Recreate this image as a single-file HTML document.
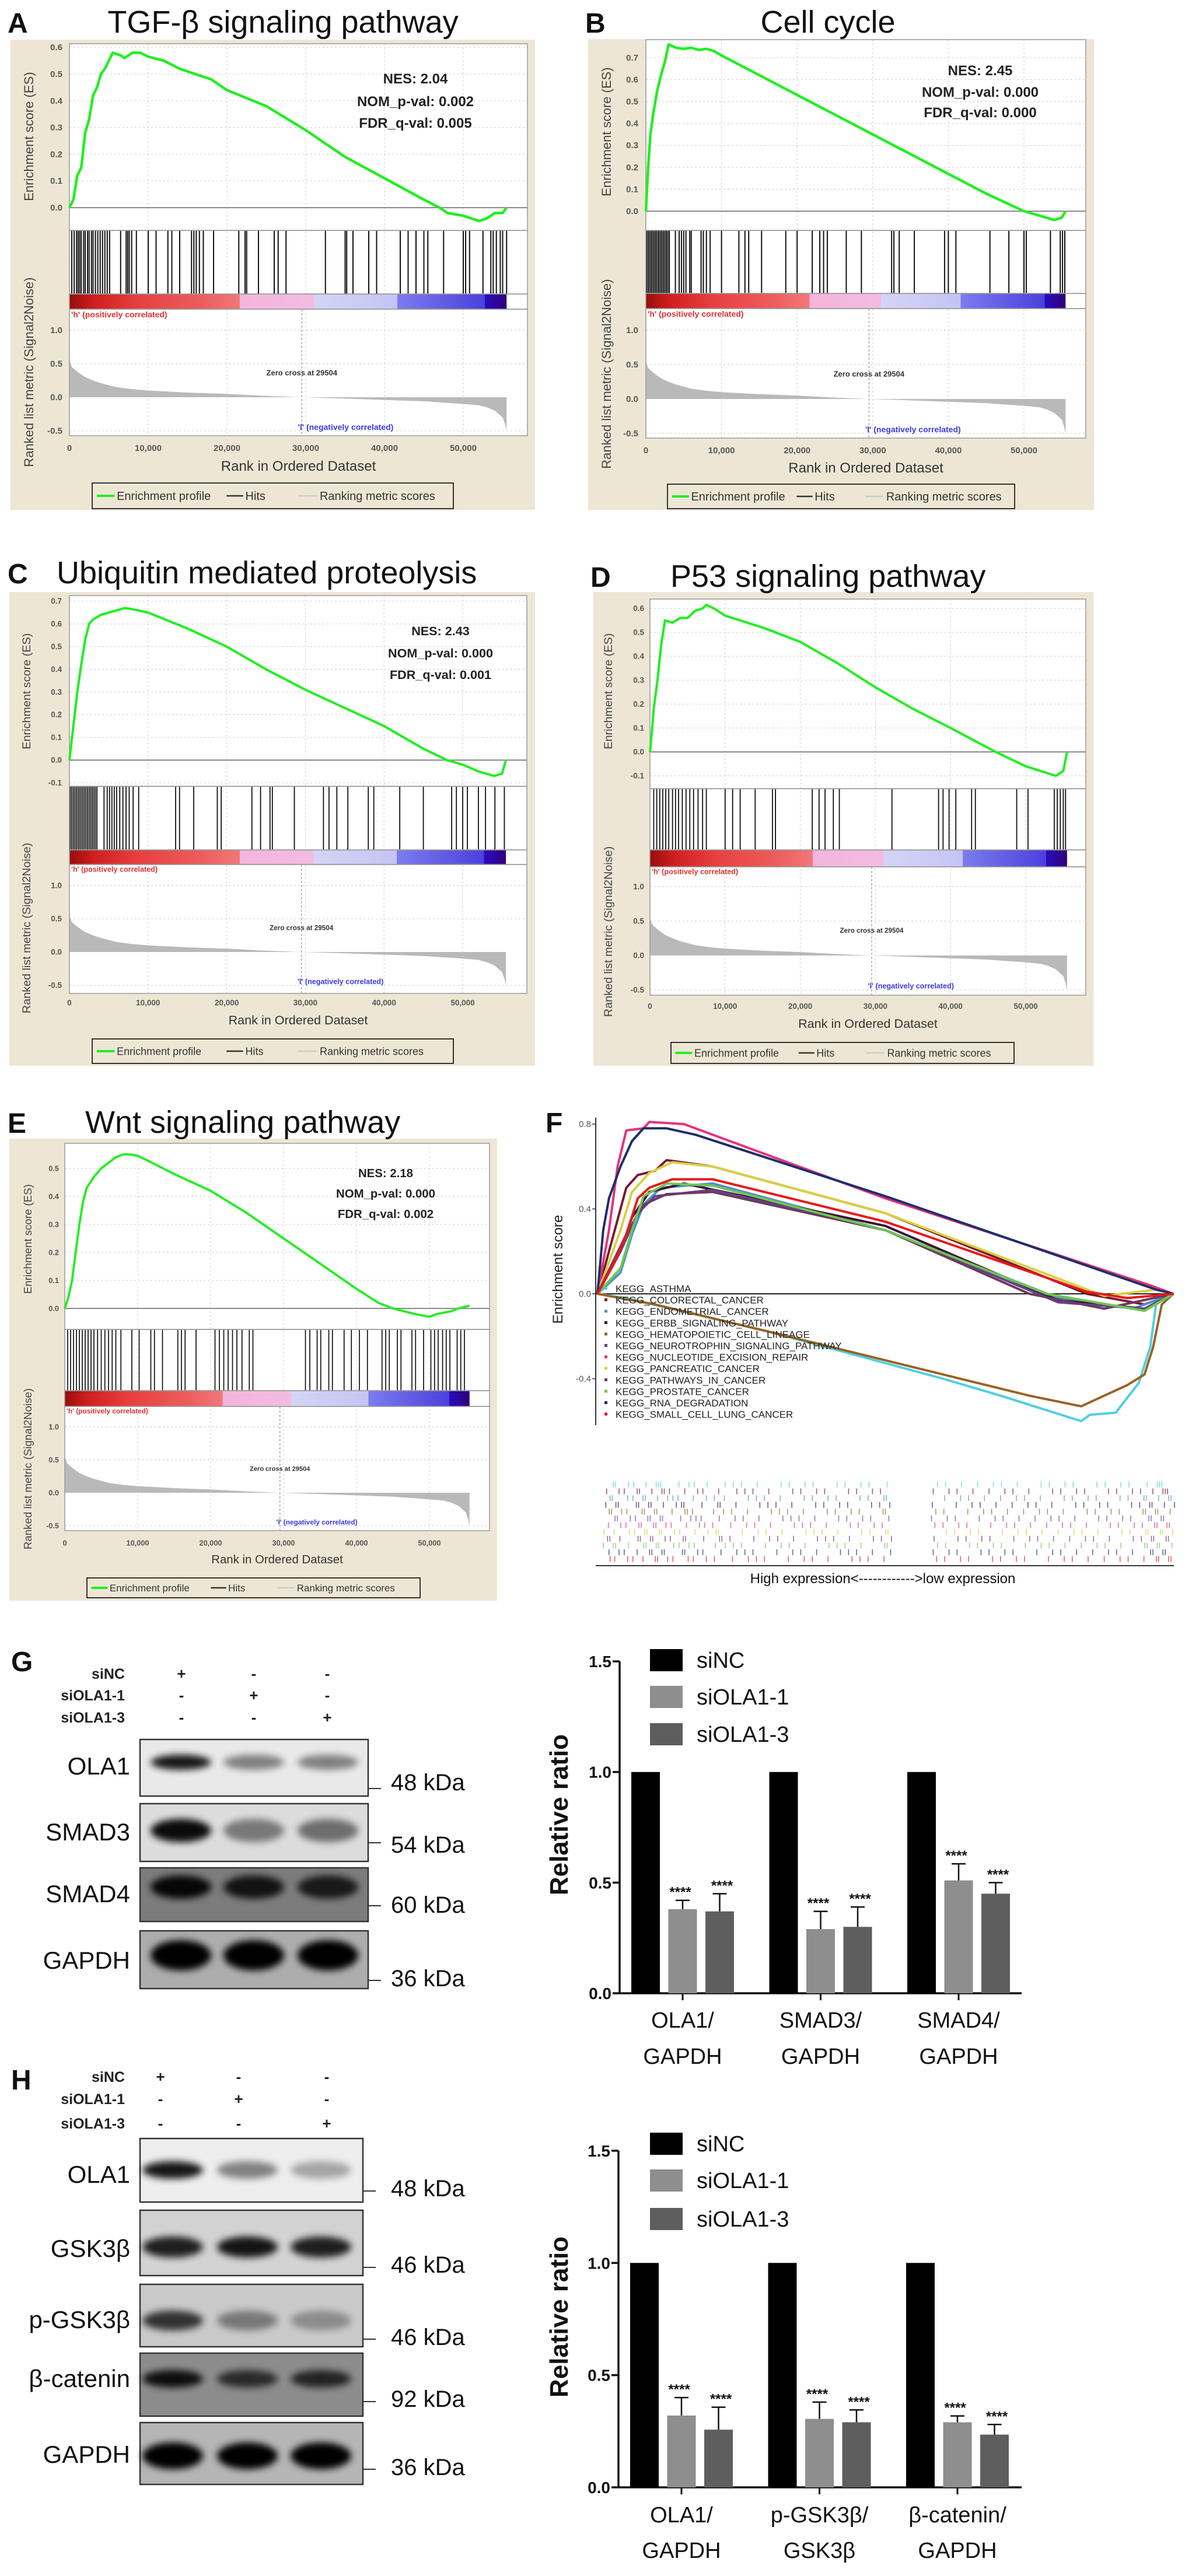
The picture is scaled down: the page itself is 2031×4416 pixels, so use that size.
<!DOCTYPE html>
<html><head><meta charset="utf-8"><title>OLA1 GSEA and western blot figure</title>
<style>
html,body{margin:0;padding:0;background:#fff;}
svg{display:block;font-family:"Liberation Sans",Arial,sans-serif;}
</style></head>
<body>
<svg id="fig" width="2031" height="4416" viewBox="0 0 2031 4416" xmlns="http://www.w3.org/2000/svg">
<defs>
<linearGradient id="cbar" x1="0" x2="1" y1="0" y2="0">
<stop offset="0" stop-color="#9a0c0c"/><stop offset="0.06" stop-color="#d02020"/><stop offset="0.16" stop-color="#e84040"/><stop offset="0.3" stop-color="#ec5c5c"/><stop offset="0.39" stop-color="#f07878"/>
<stop offset="0.39" stop-color="#f4b4dc"/><stop offset="0.56" stop-color="#f2bce2"/>
<stop offset="0.56" stop-color="#d4d4f6"/><stop offset="0.75" stop-color="#c4c4f4"/>
<stop offset="0.75" stop-color="#7c7cee"/><stop offset="0.95" stop-color="#4c40dc"/>
<stop offset="0.95" stop-color="#2a0cbe"/><stop offset="1" stop-color="#30007a"/>
</linearGradient>
<filter id="blur" x="-20%" y="-50%" width="140%" height="200%"><feGaussianBlur stdDeviation="6"/></filter>
<filter id="blur2" x="-20%" y="-50%" width="140%" height="200%"><feGaussianBlur stdDeviation="3"/></filter>
</defs>
</svg>
<script>
// ===== GSEA data (rank in thousands, enrichment score) =====
const esA=[[0,0],[0.5,0.03],[1,0.12],[1.5,0.15],[2,0.28],[2.5,0.33],[3,0.42],[3.5,0.45],[4,0.5],[4.5,0.52],[5,0.55],[5.5,0.58],[6.5,0.57],[7,0.56],[8,0.58],[9,0.58],[10,0.565],[12,0.55],[14,0.52],[16,0.5],[18,0.48],[20,0.44],[25,0.38],[30,0.29],[35,0.19],[40,0.11],[45,0.03],[47,0.0],[48,-0.02],[50,-0.03],[52,-0.05],[53,-0.04],[54,-0.02],[55,-0.02],[55.5,0.0]];
const esB=[[0,0],[0.3,0.2],[0.6,0.35],[1,0.45],[1.5,0.55],[2,0.62],[2.5,0.68],[3,0.76],[4,0.745],[5,0.74],[6,0.745],[7,0.735],[8,0.74],[9,0.73],[10,0.71],[15,0.62],[20,0.53],[25,0.44],[30,0.35],[35,0.26],[40,0.17],[45,0.08],[50,0.0],[52,-0.02],[54,-0.04],[55,-0.03],[55.5,0.0]];
const esC=[[0,0],[0.5,0.15],[1,0.3],[1.5,0.42],[2,0.53],[2.5,0.6],[3,0.62],[4,0.64],[5,0.65],[6,0.66],[7,0.67],[8,0.665],[10,0.65],[15,0.58],[20,0.5],[25,0.4],[30,0.31],[35,0.23],[40,0.15],[45,0.05],[48,0.0],[50,-0.02],[52,-0.05],[54,-0.07],[55,-0.06],[55.5,0.0]];
const esD=[[0,0],[0.3,0.1],[0.5,0.18],[1,0.3],[1.5,0.45],[2,0.55],[3,0.54],[4,0.56],[5,0.56],[6,0.59],[7,0.6],[7.5,0.615],[8.5,0.6],[10,0.57],[15,0.52],[20,0.46],[25,0.37],[30,0.27],[35,0.18],[40,0.1],[46,0.0],[50,-0.06],[52,-0.08],[54,-0.1],[55,-0.08],[55.5,0.0]];
const esE=[[0,0],[0.5,0.04],[1,0.1],[1.5,0.2],[2,0.3],[2.5,0.38],[3,0.43],[4,0.47],[5,0.5],[6,0.52],[7,0.54],[8,0.55],[9,0.55],[10,0.545],[12,0.52],[15,0.48],[20,0.42],[25,0.34],[30,0.25],[35,0.16],[40,0.07],[43,0.02],[45,0.0],[48,-0.02],[50,-0.03],[51,-0.02],[53,-0.01],[54,0.0],[55.5,0.01]];
const hitsA=[0.3,0.6,0.9,1.1,1.3,1.5,1.8,2.0,2.3,2.5,2.8,3.0,3.3,3.6,3.9,4.2,4.5,4.8,5.1,6.5,7.2,7.4,7.6,7.9,8.5,10,11,12.5,13,14,15.5,15.8,16.1,16.5,17,18.3,21.5,22.3,22.5,24,26,26.5,27.5,32.5,35,35.2,36,38,39,42,43,44,45,45.5,47.5,50,50.3,50.8,52.5,53.5,53.8,54.2,54.7,55,55.5];
const hitsB=[0.1,0.3,0.5,0.7,0.9,1.1,1.3,1.5,1.7,1.9,2.1,2.3,2.5,2.7,2.9,3.1,3.9,4.4,4.7,5.0,5.3,5.8,6.0,7.3,7.6,8.0,8.5,10.0,12.3,13.1,13.6,15.3,18.5,20.0,22.0,23.0,23.5,24.0,26.5,28.5,32.5,32.8,33.5,35.5,39.5,40.0,41.0,45.5,48,50,50.3,53.5,54.8,55.1,55.4];
const hitsC=[0.1,0.3,0.5,0.7,0.9,1.1,1.3,1.5,1.7,1.9,2.1,2.3,2.5,2.7,2.9,3.1,3.3,3.5,4.4,4.8,5.1,5.4,5.7,6.0,6.4,6.8,7.2,7.6,8.1,8.8,13.5,14,15.8,18.8,19.3,23.2,24.3,25.5,25.8,28.6,32.3,33,34,35.4,38,38.7,42,45,48.6,49.2,50,50.6,52,52.9,54.1,55.3];
const hitsD=[0.5,0.9,1.3,1.7,2.1,2.5,3.0,3.4,3.8,4.3,4.8,5.3,5.8,6.4,7.0,7.5,10,11,12,14,16.3,16.7,21.6,22.5,23.3,24.4,25.2,32.2,38.4,39,39.8,40.7,42.8,43.3,48.8,50.3,53.8,54.2,54.6,55,55.3];
const hitsE=[0.4,0.8,1.2,1.6,2.0,2.4,2.8,3.2,3.6,4.0,4.5,5.0,5.5,6.0,6.5,7.0,7.7,9.2,10.2,11.8,12.3,13.4,15.5,16,16.5,18,20.6,21.2,21.8,22.4,23,23.6,24.3,25.3,25.8,33,33.6,34.6,35.1,36.2,36.7,38.3,39.3,40.4,41.5,43.5,44,44.5,45.6,46.1,47.6,48.1,49.2,50.2,50.7,51.2,51.8,52.3,52.8,53.8,54.3,54.8];
const metricRank=[0,0.3,1,2,3,4,6,8,10,15,20,25,29.5,35,40,45,50,52,53,54,54.5,55,55.3,55.5];
const metricVal=[0.55,0.45,0.38,0.3,0.25,0.21,0.15,0.12,0.1,0.07,0.05,0.02,0.0,-0.02,-0.04,-0.06,-0.1,-0.12,-0.15,-0.2,-0.25,-0.3,-0.4,-0.5];
const xTickVals=[0,10,20,30,40,50];
const xTickLabels=["0","10,000","20,000","30,000","40,000","50,000"];

// ===== F panel data (fraction of ranked list, enrichment score) =====
const fNames=["KEGG_ASTHMA","KEGG_COLORECTAL_CANCER","KEGG_ENDOMETRIAL_CANCER","KEGG_ERBB_SIGNALING_PATHWAY","KEGG_HEMATOPOIETIC_CELL_LINEAGE","KEGG_NEUROTROPHIN_SIGNALING_PATHWAY","KEGG_NUCLEOTIDE_EXCISION_REPAIR","KEGG_PANCREATIC_CANCER","KEGG_PATHWAYS_IN_CANCER","KEGG_PROSTATE_CANCER","KEGG_RNA_DEGRADATION","KEGG_SMALL_CELL_LUNG_CANCER"];
const fColors=["#4fcfe0","#7a1a30","#4f8fcc","#3a1238","#9a6224","#6a3f8a","#e8307a","#d8d040","#6a3c60","#6cc850","#1c2f6c","#e81818"];
const fAsthma=[[0,0],[0.05,-0.02],[0.3,-0.18],[0.6,-0.4],[0.7,-0.48],[0.84,-0.6],[0.855,-0.57],[0.9,-0.56],[0.94,-0.42],[0.96,-0.25],[0.97,-0.05],[1,0]];
const fColorectal=[[0,0],[0.03,0.3],[0.05,0.5],[0.07,0.56],[0.1,0.58],[0.12,0.63],[0.2,0.6],[0.5,0.38],[0.85,0.0],[0.95,-0.05],[1,0]];
const fEndometrial=[[0,0],[0.04,0.1],[0.06,0.28],[0.08,0.42],[0.11,0.5],[0.2,0.52],[0.5,0.3],[0.8,-0.02],[0.93,-0.07],[1,0]];
const fErbb=[[0,0],[0.04,0.2],[0.06,0.36],[0.09,0.48],[0.15,0.52],[0.5,0.32],[0.8,-0.03],[0.95,-0.07],[1,0]];
const fHemato=[[0,0],[0.1,-0.05],[0.3,-0.18],[0.6,-0.38],[0.75,-0.48],[0.84,-0.53],[0.88,-0.48],[0.92,-0.43],[0.95,-0.38],[0.965,-0.25],[0.98,-0.05],[1,0]];
const fNeuro=[[0,0],[0.04,0.2],[0.07,0.38],[0.1,0.46],[0.2,0.49],[0.5,0.3],[0.8,-0.04],[0.95,-0.07],[1,0]];
const fNer=[[0,0],[0.02,0.3],[0.035,0.6],[0.05,0.77],[0.08,0.78],[0.09,0.81],[0.15,0.8],[0.5,0.45],[0.96,0.04],[1,0]];
const fPancreatic=[[0,0],[0.04,0.3],[0.06,0.48],[0.09,0.57],[0.13,0.62],[0.2,0.6],[0.5,0.38],[0.88,-0.01],[0.97,0.02],[1,0]];
const fPathways=[[0,0],[0.05,0.28],[0.08,0.42],[0.12,0.47],[0.2,0.48],[0.5,0.3],[0.75,0.0],[0.88,-0.07],[1,0]];
const fProstate=[[0,0],[0.04,0.12],[0.06,0.3],[0.08,0.46],[0.12,0.52],[0.2,0.51],[0.5,0.3],[0.78,0.0],[0.95,-0.08],[1,0]];
const fRna=[[0,0],[0.01,0.3],[0.02,0.45],[0.04,0.6],[0.06,0.72],[0.08,0.78],[0.12,0.78],[0.17,0.75],[0.5,0.46],[0.97,0.02],[1,0]];
const fSclc=[[0,0],[0.03,0.15],[0.05,0.28],[0.07,0.45],[0.09,0.5],[0.13,0.54],[0.2,0.54],[0.5,0.34],[0.85,0.01],[0.92,-0.02],[1,0]];
const fSeries=[fAsthma,fColorectal,fEndometrial,fErbb,fHemato,fNeuro,fNer,fPancreatic,fPathways,fProstate,fRna,fSclc];
const fTicks=[0.8,0.4,0.0,-0.4];
const fTickLabels=["0.8","0.4","0.0","-0.4"];
const rugPos=[0.01,0.02,0.03,0.045,0.06,0.07,0.08,0.09,0.1,0.11,0.125,0.14,0.15,0.165,0.18,0.2,0.21,0.23,0.25,0.27,0.29,0.31,0.33,0.35,0.37,0.39,0.41,0.43,0.45,0.47,0.49,0.5,0.58,0.6,0.62,0.64,0.66,0.68,0.7,0.72,0.74,0.76,0.78,0.8,0.82,0.84,0.86,0.88,0.9,0.92,0.94,0.95,0.96,0.97,0.98,0.99];

// ===== Bar chart data =====
const gCats=[["OLA1/","GAPDH"],["SMAD3/","GAPDH"],["SMAD4/","GAPDH"]];
const gSiNC=[1,1,1];
const gSi1=[0.38,0.29,0.51];
const gSi3=[0.37,0.30,0.45];
const gErr1=[0.04,0.08,0.075];
const gErr3=[0.08,0.09,0.05];
const hCats=[["OLA1/","GAPDH"],["p-GSK3β/","GSK3β"],["β-catenin/","GAPDH"]];
const hSiNC=[1,1,1];
const hSi1=[0.32,0.305,0.29];
const hSi3=[0.257,0.29,0.235];
const hErr1=[0.08,0.075,0.028];
const hErr3=[0.1,0.055,0.045];
const yTicks=[0,0.5,1.0,1.5];
const yTickLabels=["0.0","0.5","1.0","1.5"];
const seriesNames=["siNC","siOLA1-1","siOLA1-3"];
const seriesColors=["#000000","#8e8e8e","#5e5e5e"];

const NS='http://www.w3.org/2000/svg';
const svg=document.getElementById('fig');
function el(tag,a,p){const e=document.createElementNS(NS,tag);for(const k in a)e.setAttribute(k,a[k]);(p||svg).appendChild(e);return e;}
function tx(s,a,p){const e=el('text',a,p);e.textContent=s;return e;}

function gsea(c,es,hits,name){
  const g=el('g',{});
  
  
  const k=c.k;
  const X=r=>c.x0+r*(c.x50-c.x0)/50;
  const YE=v=>c.esZero-v*c.esUnit;
  const YM=v=>c.metZero-v*c.metUnit;
  const bg=el('rect',{x:c.box[0],y:c.box[1],width:c.box[2],height:c.box[3],fill:'#ede6d4'},g);
  
  
  el('rect',{x:c.x0,y:c.esTop,width:c.x1-c.x0,height:c.metBot-c.esTop,fill:'#fff'},g);
  // grids
  for(const t of xTickVals){el('line',{x1:X(t),x2:X(t),y1:c.esTop,y2:c.metBot,stroke:'#d4d4d4','stroke-dasharray':'3,4','stroke-width':1.2},g);}
  for(const t of c.esTicks){el('line',{x1:c.x0,x2:c.x1,y1:YE(t),y2:YE(t),stroke:'#d4d4d4','stroke-dasharray':'3,4','stroke-width':1.2},g);}
  for(const t of [1,0.5,-0.5]){el('line',{x1:c.x0,x2:c.x1,y1:YM(t),y2:YM(t),stroke:'#d4d4d4','stroke-dasharray':'3,4','stroke-width':1.2},g);}
  // hits bg white already; colorbar
  const cb=el('rect',{x:c.x0,y:c.hitBot,width:X(55.5)-c.x0,height:c.cbBot-c.hitBot,fill:'url(#cbar)'},g);
  
  
  // hits
  for(const h of hits){
    const l=el('line',{x1:X(h),x2:X(h),y1:c.esBot,y2:c.hitBot,stroke:'#111','stroke-width':2*k},g);
    
    
  }
  // metric polygon
  let pts=`${X(0)},${c.metZero} `;
  for(let i=0;i<metricRank.length;i++)pts+=`${X(metricRank[i])},${YM(metricVal[i])} `;
  pts+=`${X(55.5)},${c.metZero}`;
  const mp=el('polygon',{points:pts,fill:'#b9b9b9'},g);
  
  
  el('line',{x1:X(29.504),x2:X(29.504),y1:c.cbBot,y2:c.metBot,stroke:'#999','stroke-dasharray':'4,3','stroke-width':1.2},g);
  // frames
  for(const [a,b] of [[c.esTop,c.esBot],[c.esBot,c.hitBot],[c.hitBot,c.cbBot],[c.cbBot,c.metBot]]){
    el('rect',{x:c.x0,y:a,width:c.x1-c.x0,height:b-a,fill:'none',stroke:'#9a9a9a','stroke-width':1.5},g);
  }
  el('line',{x1:c.x0,x2:c.x1,y1:YE(0),y2:YE(0),stroke:'#8a8a8a','stroke-width':2},g);
  // ES curve
  const pl=el('polyline',{points:es.map(p=>X(p[0])+','+YE(p[1])).join(' '),fill:'none',stroke:'#22ee22','stroke-width':4.5*k,'stroke-linejoin':'round'},g);
  
  
  // y tick labels
  for(const t of c.esTicks){tx(t.toFixed(1),{x:c.tickRX,y:YE(t)+5*k,'text-anchor':'end','font-size':15*k,'font-weight':'bold',fill:'#555'},g);}
  for(const t of [1,0.5,0,-0.5]){tx(t.toFixed(1),{x:c.tickRX,y:YM(t)+5*k,'text-anchor':'end','font-size':15*k,'font-weight':'bold',fill:'#555'},g);}
  for(let i=0;i<xTickVals.length;i++){tx(xTickLabels[i],{x:X(xTickVals[i]),y:c.tickY+5*k,'text-anchor':'middle','font-size':15*k,'font-weight':'bold',fill:'#555'},g);}
  const xt=tx('Rank in Ordered Dataset',{x:(c.x0+c.x1)/2,y:c.xTitleY+8*k,'text-anchor':'middle','font-size':24*k,fill:'#333'},g);
  
  
  const yl=tx('Enrichment score (ES)',{x:0,y:0,transform:`translate(${c.ylabX},${c.esLabY}) rotate(-90)`,'text-anchor':'middle','font-size':22*k,fill:'#444'},g);
  
  
  const yl2=tx('Ranked list metric (Signal2Noise)',{x:0,y:0,transform:`translate(${c.ylabX},${c.rkLabY}) rotate(-90)`,'text-anchor':'middle','font-size':22*k,fill:'#444'},g);
  
  
  tx("'h' (positively correlated)",{x:c.x0+3,y:c.cbBot+14*k,'font-size':14*k,'font-weight':'bold',fill:'#e03030'},g);
  tx("'l' (negatively correlated)",{x:X(29),y:YM(-0.45)+4*k,'font-size':14*k,'font-weight':'bold',fill:'#3a3ae0'},g);
  tx('Zero cross at 29504',{x:X(29.5),y:YM(0.36)+4*k,'text-anchor':'middle','font-size':13*k,'font-weight':'bold',fill:'#333'},g);
  if(c.nes){
    const ys=c.nesY;
    tx('NES:  '+c.nes[0],{x:c.nesX,y:ys[0]+8*k,'text-anchor':'middle','font-size':24*k,'font-weight':'bold',fill:'#222'},g);
    tx('NOM_p-val:  '+c.nes[1],{x:c.nesX,y:ys[1]+8*k,'text-anchor':'middle','font-size':24*k,'font-weight':'bold',fill:'#222'},g);
    tx('FDR_q-val:  '+c.nes[2],{x:c.nesX,y:ys[2]+8*k,'text-anchor':'middle','font-size':24*k,'font-weight':'bold',fill:'#222'},g);
  }
  // legend
  const [lx0,ly0,lx1,ly1]=c.leg; const lw=lx1-lx0, lyc=(ly0+ly1)/2;
  const lg=el('g',{},g);
  
  
  el('rect',{x:lx0,y:ly0,width:lw,height:ly1-ly0,fill:'#ede6d4',stroke:'#333','stroke-width':2},lg);
  el('line',{x1:lx0+lw*0.013,x2:lx0+lw*0.062,y1:lyc,y2:lyc,stroke:'#22ee22','stroke-width':4},lg);
  tx('Enrichment profile',{x:lx0+lw*0.068,y:lyc+7*k,'font-size':20*k,fill:'#333'},lg);
  el('line',{x1:lx0+lw*0.372,x2:lx0+lw*0.418,y1:lyc,y2:lyc,stroke:'#333','stroke-width':2.5},lg);
  tx('Hits',{x:lx0+lw*0.424,y:lyc+7*k,'font-size':20*k,fill:'#333'},lg);
  el('line',{x1:lx0+lw*0.57,x2:lx0+lw*0.622,y1:lyc,y2:lyc,stroke:'#ccc','stroke-width':2.5},lg);
  tx('Ranking metric scores',{x:lx0+lw*0.63,y:lyc+7*k,'font-size':20*k,fill:'#333'},lg);
}
function title(letter,lx,ly,t,tx0,anchor){
  const a=tx(letter,{x:lx,y:ly,'font-size':48,'font-weight':'bold',fill:'#111'});
  
  
  if(t){const b=tx(t,{x:tx0,y:ly,'font-size':54,fill:'#111','text-anchor':anchor});
  
  }
}

gsea({box:[18,68,899,806],x0:119,x1:904,x50:794,esTop:75,esBot:395,esZero:356,esUnit:458,esTicks:[0,0.1,0.2,0.3,0.4,0.5,0.6],hitBot:504,cbBot:530,metBot:747,metZero:681,metUnit:115,tickY:768,xTitleY:799,leg:[158,828,777,872],ylabX:57,esLabY:234,rkLabY:638,tickRX:107,nesX:712,nesY:[135,174,211],nes:['2.04','0.002','0.005'],k:1},esA,hitsA,'tgf-beta');
title('A',13,56,'TGF-β signaling pathway',485,'middle');

gsea({box:[1008,67,867,807],x0:1107,x1:1861,x50:1755,esTop:68,esBot:395,esZero:362,esUnit:376,esTicks:[0,0.1,0.2,0.3,0.4,0.5,0.6,0.7],hitBot:503,cbBot:529,metBot:751,metZero:684,metUnit:118,tickY:772,xTitleY:802,leg:[1144,830,1739,872],ylabX:1047,esLabY:226,rkLabY:641,tickRX:1094,nesX:1680,nesY:[121,158,193],nes:['2.45','0.000','0.000'],k:1},esB,hitsB,'cell-cycle');
title('B',1003,56,'Cell cycle',1419,'middle');

gsea({box:[16,1015,901,812],x0:119,x1:903,x50:793,esTop:1021,esBot:1348,esZero:1303,esUnit:389,esTicks:[-0.1,0,0.1,0.2,0.3,0.4,0.5,0.6,0.7],hitBot:1457,cbBot:1482,metBot:1703,metZero:1632,metUnit:114,tickY:1719,xTitleY:1749,leg:[158,1781,777,1823],ylabX:52,esLabY:1185,rkLabY:1591,tickRX:106,nesX:755,nesY:[1082,1120,1157],nes:['2.43','0.000','0.001'],k:0.9},esC,hitsC,'ubiquitin');
title('C',13,1000,'Ubiquitin mediated proteolysis',97,'start');

gsea({box:[1017,1015,857,812],x0:1114,x1:1861,x50:1758,esTop:1027,esBot:1352,esZero:1289,esUnit:410,esTicks:[-0.1,0,0.1,0.2,0.3,0.4,0.5,0.6],hitBot:1457,cbBot:1486,metBot:1706,metZero:1638,metUnit:118,tickY:1725,xTitleY:1755,leg:[1150,1787,1738,1823],ylabX:1049,esLabY:1185,rkLabY:1597,tickRX:1104,k:0.9},esD,hitsD,'p53');
title('D',1012,1006,'P53 signaling pathway',1149,'start');

gsea({box:[16,1952,836,792],x0:111,x1:839,x50:736,esTop:1960,esBot:2279,esZero:2243,esUnit:480,esTicks:[0,0.1,0.2,0.3,0.4,0.5],hitBot:2384,cbBot:2411,metBot:2624,metZero:2559,metUnit:113,tickY:2645,xTitleY:2673,leg:[149,2705,720,2739],ylabX:54,esLabY:2124,rkLabY:2518,tickRX:101,nesX:661,nesY:[2011,2046,2081],nes:['2.18','0.000','0.002'],k:0.85},esE,hitsE,'wnt');
title('E',13,1942,'Wnt signaling pathway',146,'start');

// ===== Panel F =====
(function(){
  const g=el('g',{});
  
  
  const XF=f=>1024+f*(2011-1024);
  const YF=v=>2218-v*363.75;
  const ax=el('line',{x1:1021,x2:1021,y1:1916,y2:2443,stroke:'#333','stroke-width':2},g);
  
  
  for(let i=0;i<fTicks.length;i++){
    el('line',{x1:1015,x2:1021,y1:YF(fTicks[i]),y2:YF(fTicks[i]),stroke:'#333','stroke-width':1.5},g);
    tx(fTickLabels[i],{x:1013,y:YF(fTicks[i])+5,'text-anchor':'end','font-size':15,fill:'#555'},g);
  }
  el('line',{x1:1021,x2:2012,y1:YF(0),y2:YF(0),stroke:'#222','stroke-width':2},g);
  for(let s=0;s<fSeries.length;s++){
    const p=el('polyline',{points:fSeries[s].map(q=>XF(q[0])+','+YF(q[1])).join(' '),fill:'none',stroke:fColors[s],'stroke-width':4,'stroke-linejoin':'round'},g);
    
    
  }
  const yl=tx('Enrichment  score',{x:0,y:0,transform:'translate(964,2176) rotate(-90)','text-anchor':'middle','font-size':24,fill:'#222'},g);
  
  
  for(let i=0;i<fNames.length;i++){
    const y=2209+i*19.6;
    const d=el('rect',{x:1036,y:y-3,width:5,height:5,fill:fColors[i]},g);
    
    
    const t=tx(fNames[i],{x:1055,y:y+6,'font-size':17,fill:'#222'},g);
    
    
  }
  // rug of hit positions (12 rows)
  for(let r=0;r<12;r++){
    const y=2540+r*11.6;
    for(let i=0;i<rugPos.length;i++){
      if((i*7+r*3)%5===0)continue;
      const f=rugPos[i]+((r*13+i*5)%9)*0.0015;
      el('line',{x1:XF(f),x2:XF(f),y1:y,y2:y+10,stroke:fColors[r],'stroke-width':1.6,opacity:0.7},g);
    }
  }
  el('line',{x1:1021,x2:2012,y1:2684,y2:2684,stroke:'#333','stroke-width':2},g);
  tx('High expression<------------>low expression',{x:1513,y:2714,'text-anchor':'middle','font-size':24,fill:'#111'},g);
  title('F',935,1941,null);
})();

// ===== Western blots =====
function blots(prefix,rows,lanes,labelRows,lx){
  const g=el('g',{});
  
  
  // treatment labels
  for(const lr of labelRows){
    tx(lr.name,{x:214,y:lr.y+9,'text-anchor':'end','font-size':25,'font-weight':'bold',fill:'#222'},g);
    for(let i=0;i<3;i++) tx(lr.signs[i],{x:lr.xs[i],y:lr.y+9,'text-anchor':'middle','font-size':26,'font-weight':'bold',fill:'#222'},g);
  }
  for(const r of rows){
    const bx=el('rect',{x:240,y:r.y0,width:r.x1-240,height:r.y1-r.y0,fill:r.bg,stroke:'#333','stroke-width':2.5},g);
    
    
    for(let i=0;i<3;i++){
      const e=el('ellipse',{cx:lanes[i],cy:r.by,rx:52,ry:r.bh/2,fill:'#000',opacity:r.int[i],filter:'url(#blur)'},g);
      
      
    }
    tx(r.name,{x:223,y:r.ly+14,'text-anchor':'end','font-size':42,fill:'#111'},g);
    el('line',{x1:r.x1,x2:r.x1+22,y1:r.ty,y2:r.ty,stroke:'#333','stroke-width':2},g);
    tx(r.kda,{x:670,y:r.ky+14,'font-size':40,fill:'#111'},g);
  }
}
blots('g',[
 {name:'OLA1',y0:2982,y1:3079,x1:631,bg:'#e9e9e9',by:3021,bh:26,int:[0.9,0.45,0.45],ly:3028,ty:3066,ky:3055,kda:'48 kDa'},
 {name:'SMAD3',y0:3092,y1:3191,x1:631,bg:'#dcdcdc',by:3138,bh:40,int:[0.95,0.45,0.5],ly:3141,ty:3159,ky:3162,kda:'54 kDa'},
 {name:'SMAD4',y0:3202,y1:3294,x1:631,bg:'#7c7c7c',by:3235,bh:40,int:[0.95,0.85,0.8],ly:3247,ty:3267,ky:3265,kda:'60 kDa'},
 {name:'GAPDH',y0:3310,y1:3409,x1:631,bg:'#adadad',by:3352,bh:52,int:[1,1,1],ly:3361,ty:3395,ky:3391,kda:'36 kDa'}
],[310,435,562],[
 {name:'siNC',y:2869,signs:['+','-','-'],xs:[311,435,561]},
 {name:'siOLA1-1',y:2906,signs:['-','+','-'],xs:[311,435,561]},
 {name:'siOLA1-3',y:2944,signs:['-','-','+'],xs:[311,435,561]}]);
title('G',19,2865,null);

blots('h',[
 {name:'OLA1',y0:3666,y1:3775,x1:622,bg:'#ededed',by:3720,bh:30,int:[0.9,0.45,0.3],ly:3728,ty:3756,ky:3751,kda:'48 kDa'},
 {name:'GSK3β',y0:3789,y1:3901,x1:622,bg:'#d2d2d2',by:3852,bh:36,int:[0.85,0.9,0.85],ly:3855,ty:3887,ky:3882,kda:'46 kDa'},
 {name:'p-GSK3β',y0:3916,y1:4023,x1:622,bg:'#c9c9c9',by:3978,bh:34,int:[0.75,0.4,0.3],ly:3977,ty:4010,ky:4006,kda:'46 kDa'},
 {name:'β-catenin',y0:4034,y1:4142,x1:622,bg:'#8c8c8c',by:4078,bh:30,int:[0.9,0.7,0.75],ly:4078,ty:4117,ky:4112,kda:'92 kDa'},
 {name:'GAPDH',y0:4153,y1:4259,x1:622,bg:'#b5b5b5',by:4210,bh:46,int:[1,1,1],ly:4208,ty:4233,ky:4229,kda:'36 kDa'}
],[296,424,550],[
 {name:'siNC',y:3560,signs:['+','-','-'],xs:[275,409,560]},
 {name:'siOLA1-1',y:3598,signs:['-','+','-'],xs:[275,409,560]},
 {name:'siOLA1-3',y:3640,signs:['-','-','+'],xs:[275,409,560]}]);
title('H',19,3582,null);

// ===== Bar charts =====
function barChart(prefix,c,cats,vals,errs){
  const g=el('g',{});
  
  
  const Y=v=>c.y0-v*c.unit;
  const yax=el('line',{x1:c.xA,x2:c.xA,y1:Y(1.5),y2:c.y0,stroke:'#111','stroke-width':3.5},g);
  
  
  const xax=el('line',{x1:c.xA,x2:1751,y1:c.y0,y2:c.y0,stroke:'#111','stroke-width':3.5},g);
  
  
  for(let i=0;i<yTicks.length;i++){
    el('line',{x1:c.xA-12,x2:c.xA,y1:Y(yTicks[i]),y2:Y(yTicks[i]),stroke:'#111','stroke-width':3.5},g);
    tx(yTickLabels[i],{x:c.xA-14,y:Y(yTicks[i])+10,'text-anchor':'end','font-size':28,'font-weight':'bold',fill:'#111'},g);
  }
  const yl=tx('Relative ratio',{x:0,y:0,transform:`translate(${c.ylx},${c.yly}) rotate(-90)`,'text-anchor':'middle','font-size':44,'font-weight':'bold',fill:'#111'},g);
  
  
  for(let gi=0;gi<cats.length;gi++){
    const gx=c.xA+20+gi*236.5;
    for(let s=0;s<3;s++){
      const bx=gx+s*63.5, v=vals[s][gi];
      const r=el('rect',{x:bx,y:Y(v),width:49,height:c.y0-Y(v),fill:seriesColors[s]},g);
      
      
      if(s>0){
        const e=errs[s-1][gi], cx=bx+24.5;
        el('line',{x1:cx,x2:cx,y1:Y(v),y2:Y(v+e),stroke:'#111','stroke-width':2.5},g);
        el('line',{x1:cx-12,x2:cx+12,y1:Y(v+e),y2:Y(v+e),stroke:'#111','stroke-width':2.5},g);
        tx('****',{x:cx+(s===1?-4:4),y:Y(v+e)-6,'text-anchor':'middle','font-size':24,'font-weight':'bold',fill:'#111'},g);
      }
    }
    const cx=gx+63.5+24.5;
    el('line',{x1:cx,x2:cx,y1:c.y0,y2:c.y0+12,stroke:'#111','stroke-width':3},g);
    tx(cats[gi][0],{x:cx,y:c.labY1+14,'text-anchor':'middle','font-size':38,fill:'#111'},g);
    tx(cats[gi][1],{x:cx,y:c.labY2+14,'text-anchor':'middle','font-size':38,fill:'#111'},g);
  }
  for(let s=0;s<3;s++){
    const lr=el('rect',{x:1114,y:c.legY[s]-19,width:56,height:38,fill:seriesColors[s]},g);
    
    
    tx(seriesNames[s],{x:1194,y:c.legY[s]+13,'font-size':38,fill:'#111'},g);
  }
}
barChart('g',{xA:1062,y0:3417,unit:379.3,ylx:973,yly:3111,labY1:3462,labY2:3524,legY:[2846,2909,2973]},gCats,[gSiNC,gSi1,gSi3],[gErr1,gErr3]);
barChart('h',{xA:1060,y0:4264,unit:384.7,ylx:973,yly:3972,labY1:4310,labY2:4371,legY:[3675,3738,3804]},hCats,[hSiNC,hSi1,hSi3],[hErr1,hErr3]);
</script>
</body></html>
